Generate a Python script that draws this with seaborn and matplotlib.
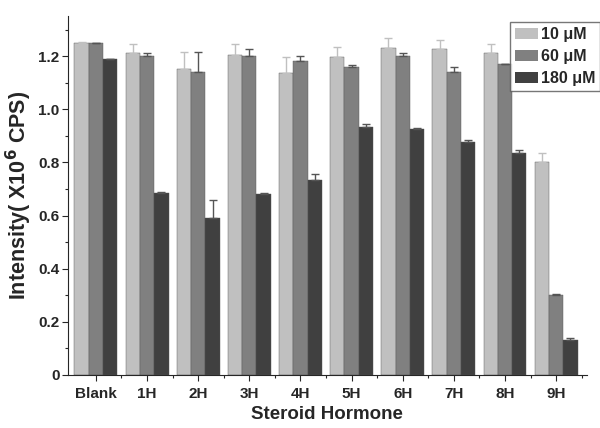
import numpy as np
import pandas as pd
import matplotlib
matplotlib.use('Agg')
import matplotlib.pyplot as plt
from matplotlib.ticker import MultipleLocator, FuncFormatter
from matplotlib.patches import Patch
import seaborn as sns

groups = ['Blank', '1H', '2H', '3H', '4H', '5H', '6H', '7H', '8H', '9H']
series = ['10 \u03bcM', '60 \u03bcM', '180 \u03bcM']
v10 = [1.25, 1.21, 1.15, 1.205, 1.135, 1.195, 1.23, 1.225, 1.21, 0.80]
v60 = [1.25, 1.20, 1.14, 1.20, 1.18, 1.16, 1.20, 1.14, 1.17, 0.30]
v180 = [1.19, 0.685, 0.59, 0.68, 0.735, 0.935, 0.925, 0.875, 0.835, 0.13]
e10 = [0.005, 0.035, 0.065, 0.04, 0.06, 0.04, 0.04, 0.035, 0.035, 0.035]
e60 = [0.0, 0.01, 0.075, 0.025, 0.02, 0.005, 0.01, 0.02, 0.0, 0.005]
e180 = [0.0, 0.003, 0.07, 0.005, 0.02, 0.01, 0.003, 0.01, 0.01, 0.01]
colors = ['#c0c0c0', '#808080', '#404040']

sns.set_style('ticks')
plt.rcParams['font.family'] = ['Liberation Sans', 'DejaVu Sans']
plt.rcParams['font.weight'] = 'bold'

df = pd.DataFrame({
    'group': groups * 3,
    'conc': [s for s in series for _ in groups],
    'val': v10 + v60 + v180,
})

fig = plt.figure(figsize=(6, 4.28), dpi=100)
ax = fig.add_axes([0.113, 0.124, 0.865, 0.838])

sns.barplot(data=df, x='group', y='val', hue='conc', palette=colors,
            width=0.84, ax=ax, legend=False, edgecolor='#555555', linewidth=0.3)

# error bars, upper side only
w = 0.84 / 3
for i, (vals, errs) in enumerate([(v10, e10), (v60, e60), (v180, e180)]):
    x = np.arange(len(groups)) + (i - 1) * w
    ax.errorbar(x, vals, yerr=[np.zeros(len(errs)), errs], fmt='none',
                ecolor=colors[i] if i == 0 else '#555555', elinewidth=1, capsize=3, capthick=1)

ax.set_xlim(-0.55, 9.6)
ax.set_ylim(0, 1.35)
ax.yaxis.set_major_locator(MultipleLocator(0.2))
ax.yaxis.set_minor_locator(MultipleLocator(0.1))
ax.yaxis.set_major_formatter(FuncFormatter(lambda v, p: '0' if abs(v) < 1e-9 else f'{v:.1f}'))
ax.set_xticks(np.arange(len(groups)), groups)
ax.set_xticks(np.arange(len(groups)) + 0.5, minor=True)
ax.tick_params(axis='both', which='major', length=4, width=0.8, labelsize=11, pad=2)
ax.tick_params(axis='both', which='minor', length=2.5, width=0.8)
ax.tick_params(axis='x', which='major', pad=5)
for lab in ax.get_xticklabels() + ax.get_yticklabels():
    lab.set_fontweight('bold')

sns.despine(ax=ax)
ax.set_xlabel('Steroid Hormone', fontsize=13.5, fontweight='bold', labelpad=3)
ax.set_ylabel('Intensity( X10$^{\\mathbf{6}}$ CPS)', fontsize=15.5, fontweight='bold', labelpad=3)

handles = [Patch(facecolor=c, edgecolor='none') for c in colors]
fig.legend(handles, series, loc='upper right', bbox_to_anchor=(1.0, 0.948),
           frameon=True, fancybox=False, edgecolor='#555555',
           prop={'weight': 'bold', 'size': 11.5}, handlelength=1.45, handleheight=0.7,
           handletextpad=0.15, borderpad=0.3, labelspacing=0.45, borderaxespad=0.0)

fig.savefig('out.png', dpi=100)
